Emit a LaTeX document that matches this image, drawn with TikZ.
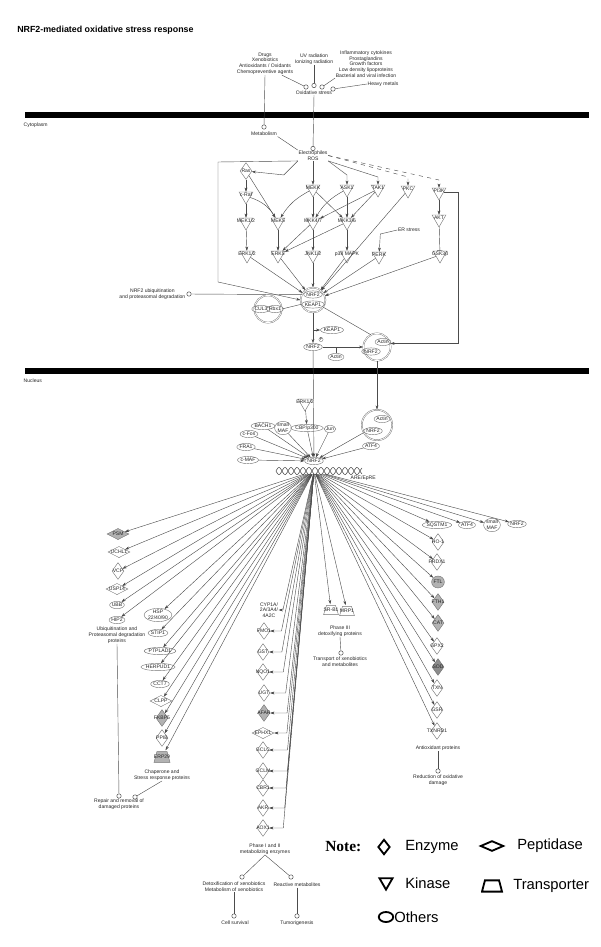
\documentclass[tikz,border=0pt]{standalone}
\usepackage{fontspec}
\setmainfont{Liberation Sans}
\newfontfamily\notefont{Liberation Serif}
\usetikzlibrary{arrows.meta,shapes.geometric,positioning}
\newcommand{\pwfont}{\fontsize{3.6}{4.1}\selectfont}
\tikzstyle{txt}=[font=\pwfont,align=center,inner sep=0.3pt,text=black!85]
\tikzstyle{lab}=[font=\pwfont,align=center,inner sep=0pt,text=black!85]
\tikzstyle{dot}=[circle,draw=black!70,fill=white,inner sep=0pt,minimum size=0.11cm,line width=0.35pt]
\tikzstyle{other}=[ellipse,draw=black!55,font=\pwfont,align=center,inner sep=0pt,minimum height=0.18cm,text=black!85,line width=0.3pt]
\tikzstyle{cplx}=[circle,draw=black!55,double=white,double distance=0.5pt,line width=0.3pt]
\tikzstyle{ln}=[draw=black!70,line width=0.3pt]
\tikzstyle{lk}=[ln,-{Stealth[length=3pt,width=2pt]}]
\tikzstyle{inh}=[ln,-{Bar[width=4pt]}]
\tikzstyle{bar}=[fill=black]
\tikzstyle{trap}=[draw=black!55,fill=white,line width=0.3pt]
\tikzstyle{key}=[draw=black,line width=1.3pt,inner sep=0pt]
\tikzstyle{keytxt}=[anchor=west,font=\fontsize{10.5}{12}\selectfont,inner sep=0pt]
\tikzset{
  kinase/.style={regular polygon,regular polygon sides=3,shape border rotate=180,draw=black!55,line width=0.3pt,
    minimum size=0.4cm,inner sep=0pt,label={[lab,yshift=0.8pt]center:#1}},
  enzyme/.style={diamond,draw=black!55,line width=0.3pt,minimum width=0.3cm,minimum height=0.42cm,inner sep=0pt,
    label={[lab]center:#1}},
  peptidase/.style={diamond,draw=black!55,line width=0.3pt,minimum width=0.55cm,minimum height=0.28cm,inner sep=0pt,
    label={[lab]center:#1}},
  transporter/.style={minimum width=0.42cm,minimum height=0.28cm,inner sep=0pt,label={[lab]center:#1},
    path picture={\filldraw[trap] ([shift={(0.7pt,0.7pt)}]path picture bounding box.south west)
      -- ([shift={(2.8pt,-0.7pt)}]path picture bounding box.north west)
      -- ([shift={(-2.8pt,-0.7pt)}]path picture bounding box.north east)
      -- ([shift={(-0.7pt,0.7pt)}]path picture bounding box.south east) -- cycle;}},
  sidein/.style={to path={-- ([xshift=#1]\tikztotarget.east) -- (\tikztotarget.east)}}
}

\begin{document}
\begin{tikzpicture}[x=0.025cm,y=-0.025cm]
  \useasboundingbox (0,0) rectangle (600,947);
  \node[anchor=west,inner sep=0pt,font=\fontsize{6.3}{7}\selectfont\bfseries] (title) at (17,30) {NRF2-mediated oxidative stress response};

  % stimuli
  \node[txt] (drugs) at (265,63.5) {Drugs\\Xenobiotics\\Antioxidants / Oxidants\\Chemopreventive agents};
  \node[txt] (uv) at (314,59) {UV radiation\\Ionizing radiation};
  \node[txt] (infl) at (366,64) {Inflammatory cytokines\\Prostaglandins\\Growth factors\\Low density lipoproteins\\Bacterial and viral infection};
  \node[txt] (metals) at (383,84) {Heavy metals};
  \node[dot] (ox1) at (306,87) {};
  \node[dot] (ox2) at (314,85.5) {};
  \node[dot] (ox3) at (322,87) {};
  \node[dot] (ox4) at (333,89) {};
  \node[txt] (oxstress) at (314,92.5) {Oxidative stress};
  \draw[ln] ([xshift=-0.3cm]drugs.south east) -- (ox1);
  \draw[ln] (uv.south) -- (ox2);
  \draw[ln] (infl.south west) -- (ox3);
  \draw[ln] (metals.west) -- (ox4);

  % membranes
  \fill[bar] (25,112) rectangle (589,117.5);
  \fill[bar] (25,368) rectangle (589,373.5);
  \node[txt,anchor=west] (cyto) at (23,125) {Cytoplasm};
  \node[txt,anchor=west] (nucl) at (23,381) {Nucleus};

  % cytoplasm
  \node[dot] (metabdot) at (264,127) {};
  \node[txt] (metab) at (264,134) {Metabolism};
  \node[dot] (elecdot) at (313,148.5) {};
  \node[txt] (elec) at (313,155.5) {Electrophiles\\ROS};
  \draw[ln] (drugs.south) -- (metabdot);
  \draw[ln] (oxstress.south) -- (elecdot);
  \draw[ln] (metab.south east) -- (elec.north west);

  \node[enzyme=Ras] (ras) at (246,171) {};
  \node[kinase=c-Raf] (craf) at (246,196) {};
  \node[kinase=MEK1/2] (mek12) at (246,222) {};
  \node[kinase=ERK1/2] (erk12) at (247,255) {};
  \node[kinase=MEK5] (mek5) at (278,222) {};
  \node[kinase=ERK5] (erk5) at (278,255) {};
  \node[kinase=MEKK] (mekk) at (313,189) {};
  \node[kinase=ASK1] (ask1) at (347,189) {};
  \node[kinase=TAK1] (tak1) at (378,189) {};
  \node[kinase=PKC] (pkc) at (408,190) {};
  \node[kinase=PI3K] (pi3k) at (439,192) {};
  \node[kinase=MKK4/7] (mkk47) at (313,222) {};
  \node[kinase=MKK3/6] (mkk36) at (347,222) {};
  \node[kinase=AKT] (akt) at (439,219) {};
  \node[kinase=JNK1/2] (jnk) at (313,255) {};
  \node[kinase=p38 MAPK] (p38) at (347,255) {};
  \node[kinase=PERK] (perk) at (379,256) {};
  \node[kinase=GSK3β] (gsk) at (440,255) {};
  \node[txt] (erstress) at (409,230) {ER stress};

  \draw[lk] (elec.south west) -- ++(-14,14) -- (ras);
  \draw[lk] (elec.south) -- (mekk);
  \draw[lk] (elec.south east) -- (347,175) -- (ask1);
  \draw[lk] (elec.south east) -- (378,177) -- (tak1);
  \draw[lk,dashed] (elec.east) -- (408,177) -- (pkc);
  \draw[lk,dashed] (elec.east) -- (439,180) -- (pi3k);
  \draw[lk] (erstress.west) -- ++(-17,4) -- (perk);

  \path[lk] (ras) edge (craf) edge (mek5)
    (craf) edge (mek12) edge[bend left=20] (mek5)
    (mek12) edge (erk12)
    (mek5) edge (erk5)
    (mekk) edge[bend right=15] (mek5) edge (mkk47) edge (mkk36)
    (ask1) edge[bend right=15] (mkk47) edge (mkk36)
    (tak1) edge (mkk36) edge (mkk47)
    (mkk47) edge (jnk) edge (erk5)
    (mkk36) edge (p38) edge (erk5)
    (pi3k) edge (akt);
  \draw[inh] (akt) -- (gsk);

  % NRF2 release
  \node[cplx,minimum size=0.62cm] (nk) at (313,300) {};
  \node[other] (nkn) at (313,294.5) {NRF2};
  \node[other] (nkk) at (313,304.5) {KEAP1};
  \node[cplx,minimum size=0.68cm] (cul) at (268,309) {};
  \node[other] (cul3) at (261,309) {CUL3};
  \node[other] (rbx1) at (275,309) {Rbx1};
  \node[dot] (ubqdot) at (189,294) {};
  \node[txt,anchor=east] (ubq) at (186,294) {NRF2 ubiquitination\\and proteasomal degradation};
  \draw[ln] (ubqdot) -- (nk.155);
  \draw[ln] (cul.east) -- (nk.200);
  \draw[lk] (elec.south west) -- (218,162) -- (218,282) -- (nk.west);
  \path[lk] (erk12) edge (nk) (erk5) edge (nk) (jnk) edge (nk) (p38) edge (nk)
    (perk) edge (nk) (pkc) edge (nk) (gsk) edge (nk);

  \node[other] (nrf2p) at (313,347) {NRF2};
  \node[circle,draw=black!55,line width=0.25pt,inner sep=0.2pt,font=\fontsize{2.5}{3}\selectfont] (phos) at (321,339.5) {P};
  \node[other] (keap1b) at (332,330) {KEAP1};
  \node[other] (actinc) at (336,357) {Actin};
  \node[cplx,minimum size=0.68cm] (anc) at (377,347) {};
  \node[other] (ancA) at (383,342) {Actin};
  \node[other] (ancN) at (371,351.5) {NRF2};
  \draw[lk] (nk.south) -- (nrf2p);
  \draw[lk] (nk.south) |- (keap1b);
  \draw[lk] (nrf2p) -- (anc);
  \draw[ln] (actinc.north) -- (actinc.north |- nrf2p);
  \draw[ln] (nk.-35) -- (anc.117);
  \draw[lk] (pi3k.east) -- ++(14,0) |- (anc.15);

  % nucleus
  \node[kinase=ERK1/2] (erk12n) at (305,403) {};
  \node[other] (cbp) at (307,428) {CBP/p300};
  \node[other] (smafa) at (283,428) {small\\MAF};
  \node[other] (bach1) at (263,426) {BACH1};
  \node[other] (cfos) at (249,434) {c-Fos};
  \node[other] (fra1) at (246,447) {FRA1};
  \node[other] (cmaf) at (248,460) {c-MAF};
  \node[other] (jun) at (330,429) {Jun};
  \node[other] (atf4a) at (371,446) {ATF4};
  \node[cplx,minimum size=0.76cm] (anc2) at (377,425) {};
  \node[other] (anc2A) at (382,419) {Actin};
  \node[other] (anc2N) at (373,431) {NRF2};
  \node[other] (nrf2n) at (314,461) {NRF2};
  \draw[lk] (erk12n) -- (cbp);
  \draw[lk] (nrf2p) -- (nrf2n);
  \draw[lk] (anc) -- (anc2);
  \path[lk] (bach1) edge (nrf2n) (smafa) edge (nrf2n) (cbp) edge (nrf2n) (jun) edge (nrf2n)
    (cfos) edge (nrf2n) (fra1) edge (nrf2n) (cmaf) edge (nrf2n) (atf4a) edge (nrf2n) (anc2) edge (nrf2n);

  % ARE
  \node[minimum width=1cm,minimum height=0.15cm,inner sep=0pt] (are) at (314,471) {};
  \draw[black!70,line width=0.4pt] plot[domain=276:362,samples=150] (\x,{471+3.5*sin(30*(\x-276))});
  \draw[black!70,line width=0.4pt] plot[domain=276:362,samples=150] (\x,{471-3.5*sin(30*(\x-276))});
  \node[txt,anchor=west] (arelab) at (350,478) {ARE/EpRE};

  % ubiquitination and chaperones
  \node[peptidase=PSM,fill=black!30] (psm) at (118,534) {};
  \node[peptidase=UCHL1] (uchl1) at (119,552) {};
  \node[enzyme=VCP] (vcp) at (118,571) {};
  \node[peptidase=USP14] (usp14) at (117,589) {};
  \node[other] (ubb) at (117,605) {UBB};
  \node[other] (hip2) at (117,620) {HIP2};
  \node[txt] (ubqprot) at (117,635) {Ubiquitination and\\Proteasomal degradation\\proteins};
  \node[other] (hsp) at (158,615) {HSP\\22/40/90};
  \node[other] (stip1) at (158,633) {STIP1};
  \node[other] (ptplad1) at (160,651) {PTPLAD1};
  \node[other] (herpud1) at (158,667) {HERPUD1};
  \node[other] (cct7) at (160,684) {CCT7};
  \node[peptidase=CLPP] (clpp) at (161,701) {};
  \node[enzyme=FKBP5,fill=black!30] (fkbp5) at (162,718) {};
  \node[enzyme=PPIB] (ppib) at (162,738) {};
  \node[transporter=ERP29,trap/.append style={fill=black!30},minimum width=0.45cm,minimum height=0.32cm] (erp29) at (162,757) {};
  \node[txt] (chap) at (162,775) {Chaperone and\\Stress response proteins};
  \node[dot] (repdot1) at (119,796) {};
  \node[dot] (repdot2) at (135,797) {};
  \node[txt] (repair) at (119,804) {Repair and removal of\\damaged proteins};
  \draw[ln] (ubqprot.south) -- (repdot1);
  \draw[ln] (chap.south) -- (repdot2);

  % phase I and II
  \node[txt] (cyp) at (269,610) {CYP1A/\\2A/3A4/\\4A2C};
  \node[enzyme=FMO1] (fmo1) at (264,631) {};
  \node[enzyme=GST] (gst) at (263,652) {};
  \node[enzyme=NQO1] (nqo1) at (263,672) {};
  \node[enzyme=UGT] (ugt) at (264,693) {};
  \node[enzyme=AFAR,fill=black!30] (afar) at (264,713) {};
  \node[peptidase=EPHX1] (ephx1) at (263,733) {};
  \node[enzyme=GCLC] (gclc) at (263,750) {};
  \node[enzyme=GCLM] (gclm) at (263,771) {};
  \node[enzyme=CBR1] (cbr1) at (263,788) {};
  \node[enzyme=AKR] (akr) at (263,808) {};
  \node[enzyme=AOX1] (aox1) at (263,828) {};
  \node[txt] (ph12) at (265,849) {Phase I and II\\metabolizing enzymes};
  \node[dot] (detoxdot) at (242,877) {};
  \node[dot] (reactdot) at (291,877) {};
  \node[txt] (detox) at (234,887) {Detoxification of xenobiotics\\Metabolism of xenobiotics};
  \node[txt] (react) at (297,885) {Reactive metabolites};
  \node[dot] (survdot) at (234,916) {};
  \node[dot] (tumordot) at (297,916) {};
  \node[txt] (surv) at (235,923) {Cell survival};
  \node[txt] (tumor) at (297,923) {Tumorigenesis};
  \draw[ln] (ph12.south) -- (detoxdot);
  \draw[ln] (ph12.south) -- (reactdot);
  \draw[ln] (detox.south) -- (survdot);
  \draw[ln] (react.south) -- (tumordot);

  % phase III
  \node[transporter=SR-B1] (srb1) at (331,610) {};
  \node[transporter=MRP1] (mrp1) at (347,611) {};
  \node[txt] (ph3) at (340,631) {Phase III\\detoxifying proteins};
  \node[dot] (transdot) at (341,653) {};
  \node[txt] (trans) at (340,661.5) {Transport of xenobiotics\\and metabolites};
  \draw[ln] (ph3.south) -- (transdot);

  % antioxidants
  \node[other] (sqstm1) at (437,525) {SQSTM1};
  \node[other] (atf4b) at (467,525) {ATF4};
  \node[other] (smafb) at (492,525) {small\\MAF};
  \node[other] (nrf2b) at (517,524) {NRF2};
  \node[enzyme=HO-1] (ho1) at (438,542) {};
  \node[enzyme=PRDX1] (prdx1) at (437,562) {};
  \node[other,fill=black!30,minimum width=0.3cm,minimum height=0.3cm] (ftl) at (438,582) {FTL};
  \node[enzyme=FTH1,fill=black!30] (fth1) at (438,602) {};
  \node[enzyme=CAT,fill=black!30] (cat) at (438,623) {};
  \node[enzyme=GPX2] (gpx2) at (437,646) {};
  \node[enzyme=SOD,fill=black!45] (sod) at (438,667) {};
  \node[enzyme=TXN] (txn) at (437,688) {};
  \node[enzyme=GSR] (gsr) at (437,710) {};
  \node[enzyme=TXNRD1] (txnrd1) at (437,731) {};
  \node[txt] (antiox) at (438,748) {Antioxidant proteins};
  \node[dot] (reddot) at (438,771) {};
  \node[txt] (reduct) at (438,780) {Reduction of oxidative\\damage};
  \draw[ln] (antiox.south) -- (reddot);

  % ARE targets
  \path[lk] (are) edge (psm) edge (uchl1) edge (vcp) edge (usp14) edge (ubb) edge (hip2)
    edge (hsp) edge (stip1) edge (ptplad1) edge (herpud1) edge (cct7) edge (clpp)
    edge (fkbp5) edge (ppib) edge (erp29)
    edge (srb1) edge (mrp1)
    edge (sqstm1) edge (atf4b) edge (smafb) edge (nrf2b) edge (ho1) edge (prdx1) edge (ftl)
    edge (fth1) edge (cat) edge (gpx2) edge (sod) edge (txn) edge (gsr) edge (txnrd1);
  \path[lk] (are) edge[sidein=3pt] (cyp) edge[sidein=8pt] (fmo1) edge[sidein=9pt] (gst)
    edge[sidein=10pt] (nqo1) edge[sidein=11pt] (ugt) edge[sidein=12pt] (afar)
    edge[sidein=9pt] (ephx1) edge[sidein=13pt] (gclc) edge[sidein=13pt] (gclm)
    edge[sidein=12pt] (cbr1) edge[sidein=11pt] (akr) edge[sidein=10pt] (aox1);

  % legend
  \node[anchor=west,inner sep=0pt,font=\notefont\bfseries\fontsize{11}{13}\selectfont] (note) at (325,847) {Note:};
  \node[key,diamond,minimum width=0.3cm,minimum height=0.38cm] (keyenz) at (384,847) {};
  \node[keytxt] (enztxt) at (405,847) {Enzyme};
  \node[key,diamond,minimum width=0.58cm,minimum height=0.26cm] (keypep) at (492,846) {};
  \node[keytxt] (peptxt) at (517,846) {Peptidase};
  \node[key,regular polygon,regular polygon sides=3,shape border rotate=180,minimum size=0.38cm] (keykin) at (386,882) {};
  \node[keytxt] (kintxt) at (405,883) {Kinase};
  \node[transporter=,trap/.append style={draw=black,line width=1.3pt},minimum width=0.55cm,minimum height=0.33cm] (keytra) at (492,886) {};
  \node[keytxt] (tratxt) at (513,886) {Transporter};
  \node[key,ellipse,minimum width=0.36cm,minimum height=0.25cm] (keyoth) at (386,917) {};
  \node[keytxt] (othtxt) at (394,917) {Others};
\end{tikzpicture}
\end{document}
